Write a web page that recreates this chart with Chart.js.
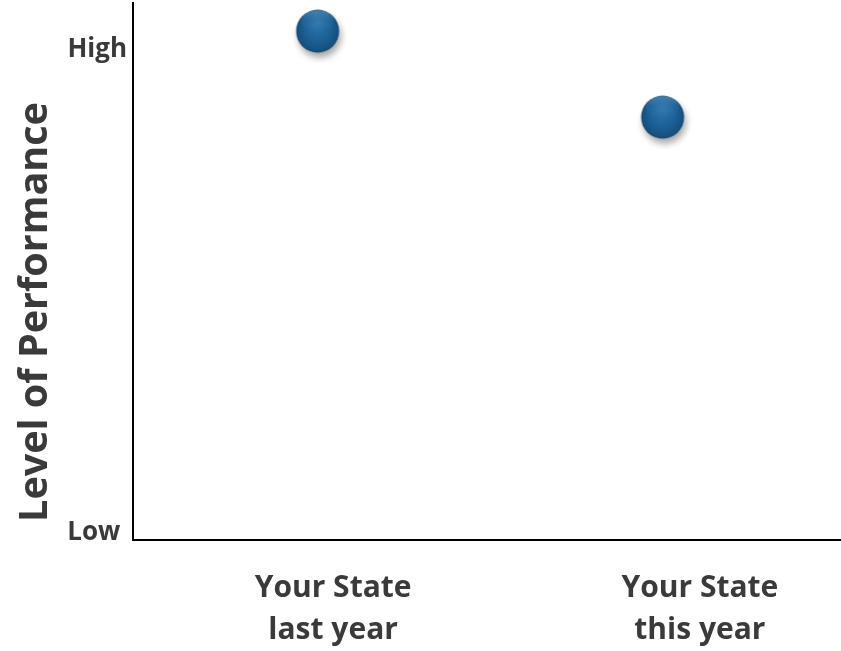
<!DOCTYPE html>
<html>
<head>
<meta charset="utf-8">
<script src="https://cdn.jsdelivr.net/npm/chart.js@4/dist/chart.umd.min.js"></script>
<style>
  html, body { margin: 0; padding: 0; background: #ffffff; }
  #wrap { width: 841px; height: 651px; }
</style>
</head>
<body>
<div id="wrap"><canvas id="chart" width="841" height="651"></canvas></div>
<script>
// Categories along the bottom (two-line labels)
const categories = [['Your State', 'last year'], ['Your State', 'this year']];
// Performance level of each category (0 = Low, 10 = High)
const performance = [10.38, 8.6];
// Named levels on the vertical axis
const levelValues = [0, 10];
const levelLabels = ['Low ', 'High'];

const TEXT = '#3a3a3a';
const FONT = '"Open Sans", sans-serif';

// Glossy blue marker with a soft drop shadow
function makeSphere(r) {
  const size = 64;
  const c = document.createElement('canvas');
  c.width = size; c.height = size;
  const g = c.getContext('2d');
  const cx = size / 2, cy = size / 2;
  g.save();
  g.shadowColor = 'rgba(0,0,0,0.35)';
  g.shadowBlur = 7;
  g.shadowOffsetX = 2;
  g.shadowOffsetY = 5;
  const grad = g.createRadialGradient(cx, cy - r * 0.35, r * 0.1, cx, cy, r);
  grad.addColorStop(0, '#2c74ab');
  grad.addColorStop(0.55, '#1c6197');
  grad.addColorStop(0.9, '#165281');
  grad.addColorStop(1, '#124872');
  g.fillStyle = grad;
  g.beginPath();
  g.arc(cx, cy, r, 0, Math.PI * 2);
  g.fill();
  g.restore();
  // top highlight
  const hl = g.createLinearGradient(0, cy - r, 0, cy);
  hl.addColorStop(0, 'rgba(120,175,220,0.55)');
  hl.addColorStop(0.5, 'rgba(90,150,200,0.15)');
  hl.addColorStop(1, 'rgba(90,150,200,0)');
  g.fillStyle = hl;
  g.beginPath();
  g.ellipse(cx, cy - r * 0.45, r * 0.78, r * 0.5, 0, 0, Math.PI * 2);
  g.fill();
  return c;
}
const sphere = makeSphere(21.5);

// Rotated vertical-axis caption
const axisCaption = {
  id: 'axisCaption',
  afterDraw(chart) {
    const ctx = chart.ctx;
    ctx.save();
    ctx.translate(47, 312);
    ctx.rotate(-Math.PI / 2);
    ctx.font = 'bold 39.5px ' + FONT;
    ctx.fillStyle = TEXT;
    ctx.textAlign = 'center';
    ctx.textBaseline = 'alphabetic';
    ctx.fillText('Level of Performance', 0, 0);
    ctx.restore();
  }
};

// Drop the extra room Chart.js reserves for overhanging labels
function noOverhang(scale) {
  scale.paddingTop = 0;
  scale.paddingBottom = 0;
  scale.paddingLeft = 0;
  scale.paddingRight = 0;
}

const labelAt = [1.045, 2.108];

new Chart(document.getElementById('chart'), {
  type: 'scatter',
  data: {
    datasets: [{
      data: performance.map((v, i) => ({ x: i + 1, y: v })),
      pointStyle: sphere,
      pointRadius: 22,
      pointHoverRadius: 22,
      clip: false
    }]
  },
  options: {
    responsive: false,
    animation: false,
    events: [],
    layout: { autoPadding: false, padding: { top: 3, right: 0, left: 0, bottom: 0 } },
    plugins: { legend: { display: false }, tooltip: { enabled: false } },
    scales: {
      x: {
        type: 'linear',
        min: 0.465,
        max: 2.517,
        afterBuildTicks(scale) { scale.ticks = labelAt.map(v => ({ value: v })); },
        afterFit(scale) { scale.height = 111; noOverhang(scale); },
        grid: { display: false, drawTicks: false },
        border: { display: true, color: '#000000', width: 2 },
        ticks: {
          autoSkip: false,
          maxRotation: 0,
          padding: 27,
          color: TEXT,
          font: { family: FONT, size: 30, weight: 'bold', lineHeight: 1.4 },
          callback: (v, i) => categories[i]
        }
      },
      y: {
        min: -0.155,
        max: 10.963,
        afterBuildTicks(scale) { scale.ticks = levelValues.map(v => ({ value: v })); },
        afterFit(scale) { scale.width = 133; noOverhang(scale); },
        grid: { display: false, drawTicks: false },
        border: { display: true, color: '#000000', width: 2 },
        ticks: {
          padding: 6,
          color: TEXT,
          font: { family: FONT, size: 26, weight: 'bold' },
          callback: (v, i) => levelLabels[i]
        }
      }
    }
  },
  plugins: [axisCaption]
});
</script>
</body>
</html>
